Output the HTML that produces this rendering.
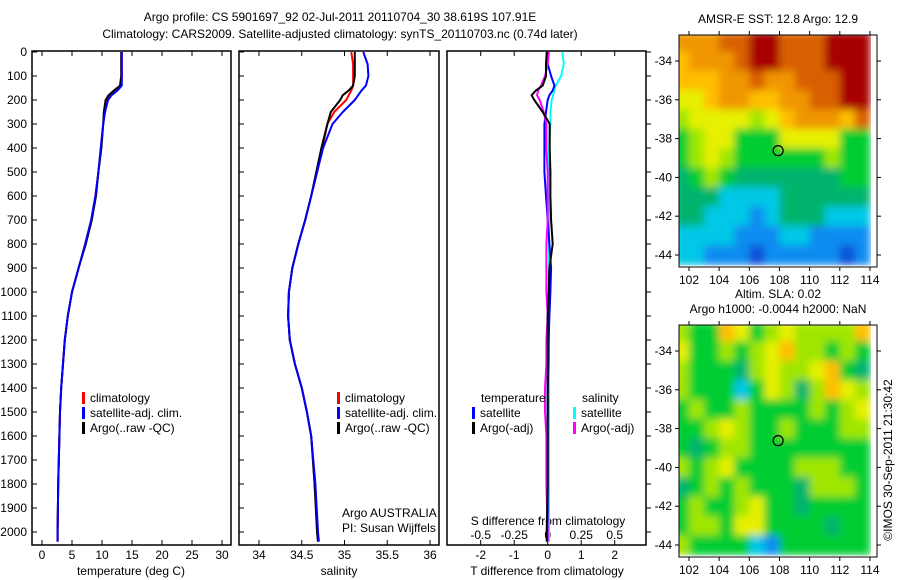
<!DOCTYPE html>
<html><head><meta charset="utf-8"><style>
body{margin:0;background:#fff;}
svg{display:block;font-family:"Liberation Sans",sans-serif;}
text{font-size:12px;fill:#000;}
</style></head><body>
<svg id="s" width="900" height="580" xmlns="http://www.w3.org/2000/svg">
<defs><filter id="bl" x="0" y="0" width="1" height="1"><feGaussianBlur stdDeviation="4" edgeMode="duplicate"/></filter></defs>
<text x="340" y="21" text-anchor="middle" font-size="13">Argo profile: CS 5901697_92 02-Jul-2011 20110704_30 38.619S 107.91E</text>
<text x="340" y="38" text-anchor="middle" font-size="13">Climatology: CARS2009. Satellite-adjusted climatology: synTS_20110703.nc (0.74d later)</text>
<text x="778" y="23" text-anchor="middle">AMSR-E SST: 12.8 Argo: 12.9</text>
<text x="778" y="298" text-anchor="middle">Altim. SLA: 0.02</text>
<text x="778" y="313" text-anchor="middle">Argo h1000: -0.0044 h2000: NaN</text>
<text transform="translate(892,460) rotate(-90)" text-anchor="middle">©IMOS 30-Sep-2011 21:30:42</text>
<g id="g"></g>
</svg>
<script>
const depths=[0,50,100,140,160,180,200,250,300,400,500,600,700,800,900,1000,1100,1200,1300,1400,1500,1600,1800,2000,2040];
const tempClim=[13.3,13.3,13.3,13.2,12.4,11.4,10.9,10.5,10.2,9.8,9.4,8.9,8.2,7.2,6.1,5.0,4.3,3.8,3.5,3.2,3.0,2.9,2.7,2.6,2.6];
const tempSat=[13.3,13.3,13.3,13.3,12.6,11.6,11.0,10.5,10.2,9.8,9.4,8.9,8.2,7.2,6.1,5.0,4.3,3.8,3.5,3.2,3.0,2.9,2.7,2.6,2.6];
const tempArgo=[13.2,13.2,13.2,13.0,12.0,11.1,10.6,10.3,10.2,9.9,9.4,9.0,8.3,7.3,6.1,5.0,4.3,3.8,3.5,3.2,3.0,2.9,2.7,2.6,2.6];
const salClim=[35.08,35.1,35.1,35.1,35.08,35.05,35.02,34.88,34.8,34.74,34.68,34.61,34.54,34.46,34.39,34.35,34.34,34.36,34.42,34.5,34.56,34.61,34.65,34.68,34.69];
const salSat=[35.22,35.27,35.28,35.25,35.2,35.16,35.12,34.98,34.86,34.75,34.68,34.61,34.54,34.46,34.39,34.35,34.34,34.36,34.42,34.5,34.56,34.61,34.66,34.69,34.7];
const salArgo=[35.12,35.12,35.12,35.1,35.05,34.98,34.95,34.84,34.8,34.73,34.67,34.61,34.54,34.46,34.39,34.35,34.34,34.36,34.42,34.5,34.56,34.61,34.65,34.68,34.69];
const tDiffSat=[0,0,0.1,0.2,0.15,0.05,0,-0.05,-0.1,-0.1,-0.1,-0.05,0,0.05,0.1,0.08,0.05,0.03,0.02,0,0,0,0,0,0];
const tDiffArgo=[-0.03,-0.05,-0.05,-0.15,-0.35,-0.48,-0.4,-0.15,0.06,0.06,0.08,0.08,0.1,0.15,0.05,0.03,0,0,0,0,0,0,0,-0.03,-0.03];
const sDiffSat=[0.11,0.12,0.1,0.06,0.05,0.04,0.03,0.02,0.02,0.01,0.01,0.01,0.01,0.01,0.01,0.01,0.01,0.01,0.01,0.01,0.01,0.01,0.01,0.01,0.01];
const sDiffArgo=[0.01,0,-0.02,-0.05,-0.07,-0.08,-0.06,-0.03,-0.01,-0.01,0,0,0,-0.01,-0.01,-0.01,0,-0.01,-0.01,-0.02,-0.02,-0.01,-0.01,0,0];
const depthTicks=[0,100,200,300,400,500,600,700,800,900,1000,1100,1200,1300,1400,1500,1600,1700,1800,1900,2000];
const tempTicks=[0,5,10,15,20,25,30];
const salTicks=[34,34.5,35,35.5,36];
const salTickLabels=["34","34.5","35","35.5","36"];
const tdTicks=[-2,-1,0,1,2];
const sdTicks=[-0.5,-0.25,0,0.25,0.5];
const sdTickLabels=["-0.5","-0.25","0","0.25","0.5"];
const lonTicks=[102,104,106,108,110,112,114];
const latTicks=[-34,-36,-38,-40,-42,-44];
const sstGrid=[
[8,8,8,9,9,10,10,9,9,9,10,10,10],
[7,8,8,8,9,10,10,9,9,9,10,10,10],
[7,7,7,8,8,9,8,8,9,9,9,10,10],
[6,6,7,8,8,7,7,8,8,9,9,10,10],
[5,6,6,6,6,5,6,7,8,8,8,7,9],
[4,5,6,6,4,4,4,6,6,6,6,4,4],
[4,5,6,5,4,4,4,4,4,4,5,4,4],
[3,4,5,4,3,3,3,3,3,3,3,4,4],
[3,3,3,2,2,2,2,3,3,3,3,3,3],
[3,3,2,2,2,1,2,3,3,3,2,2,2],
[2,2,2,2,1,1,1,2,2,1,1,1,1],
[2,2,1,1,1,0,1,1,1,1,1,0,1]];
const slaGrid=[
[5,4,4,7,6,4,5,6,5,5,5,5,7],
[6,4,4,5,4,5,6,7,5,5,4,5,4],
[5,4,4,4,3,5,6,5,5,6,7,4,3],
[5,4,4,4,2,4,6,5,3,5,7,6,5],
[4,5,4,4,5,4,4,4,4,5,4,5,6],
[4,4,5,6,5,4,4,5,4,4,4,5,5],
[4,3,4,5,5,4,4,4,4,4,4,4,4],
[5,4,5,6,4,4,4,4,5,5,5,4,4],
[3,4,5,4,5,4,4,4,3,5,5,5,4],
[4,5,4,4,5,6,4,4,3,4,4,4,4],
[4,5,5,4,6,6,4,4,4,4,3,4,4],
[5,4,4,4,4,2,1,4,4,4,4,4,4]];
const argoLon=107.91, argoLat=-38.62;

const NS="http://www.w3.org/2000/svg";
const G=document.getElementById('g');
function el(tag,attrs,parent,txt){const e=document.createElementNS(NS,tag);for(const k in attrs)e.setAttribute(k,attrs[k]);if(txt!==undefined)e.textContent=txt;(parent||G).appendChild(e);return e;}
const yTop=51,yBot=545;
const yD=d=>52+d*0.24;
function panel(x0,x1,name){const g=el('g',{});
 el('rect',{x:x0,y:yTop,width:x1-x0,height:yBot-yTop,fill:'none',stroke:'#000','stroke-width':1.5},g);return g;}
function line(g,xs,xf,color,name,w){const p=depths.map((d,i)=>`${i?'L':'M'}${xf(xs[i]).toFixed(1)},${yD(d).toFixed(1)}`).join(' ');
 const e=el('path',{d:p,fill:'none',stroke:color,'stroke-width':w||2,'stroke-linejoin':'round'},g);
 }
function xticks(g,ticks,labels,xf,yl){ticks.forEach((t,i)=>{const x=xf(t);
 el('line',{x1:x,x2:x,y1:yBot,y2:yBot-5,stroke:'#000'},g);el('line',{x1:x,x2:x,y1:yTop,y2:yTop+5,stroke:'#000'},g);
 const tx=el('text',{x:x,y:yl,'text-anchor':'middle'},g,labels[i]);});}
function yticksIn(g,x0){depthTicks.forEach(d=>el('line',{x1:x0,x2:x0+5,y1:yD(d),y2:yD(d),stroke:'#000'},g));}
function legend(g,x,y,color,label,name){el('rect',{x:x,y:y-10,width:3,height:12,fill:color},g);const t=el('text',{x:x+8,y:y},g,label);}

const tX=v=>42+v*6;
const p1=panel(32,231,'temperature-panel');
yticksIn(p1,32);
depthTicks.forEach(d=>{const t=el('text',{x:27,y:yD(d)+4,'text-anchor':'end'},p1,String(d));});
xticks(p1,tempTicks,tempTicks.map(String),tX,559);
line(p1,tempClim,tX,'#f00','temperature-climatology-line');
line(p1,tempArgo,tX,'#000','temperature-argo-line');
line(p1,tempSat,tX,'#00f','temperature-satellite-line');
legend(p1,82,402,'#f00','climatology','legend-climatology');
legend(p1,82,417,'#00f','satellite-adj. clim.','legend-satellite');
legend(p1,82,432,'#000','Argo(..raw -QC)','legend-argo');
el('text',{x:131,y:575,'text-anchor':'middle',},p1,'temperature (deg C)');

const sX=v=>259+(v-34)*85.5;
const p2=panel(239,439,'salinity-panel');
yticksIn(p2,239);
xticks(p2,salTicks,salTickLabels,sX,559);
line(p2,salClim,sX,'#f00','salinity-climatology-line');
line(p2,salArgo,sX,'#000','salinity-argo-line');
line(p2,salSat,sX,'#00f','salinity-satellite-line');
legend(p2,337,402,'#f00','climatology','legend-climatology-2');
legend(p2,337,417,'#00f','satellite-adj. clim.','legend-satellite-2');
legend(p2,337,432,'#000','Argo(..raw -QC)','legend-argo-2');
el('text',{x:342,y:517,},p2,'Argo AUSTRALIA');
el('text',{x:342,y:532,},p2,'PI: Susan Wijffels');
el('text',{x:339,y:575,'text-anchor':'middle',},p2,'salinity');

const tdX=v=>547.7+v*33.5;
const sdX=v=>547.7+v*134;
const p3=panel(447,646,'difference-panel');
depthTicks.forEach(d=>el('line',{x1:646,x2:651,y1:yD(d),y2:yD(d),stroke:'#000'},p3));
xticks(p3,tdTicks,tdTicks.map(String),tdX,559);
sdTicks.forEach((t,i)=>{const tx=el('text',{x:sdX(t),y:539,'text-anchor':'middle'},p3,sdTickLabels[i]);});
el('text',{x:548,y:525,'text-anchor':'middle',},p3,'S difference from climatology');
line(p3,sDiffSat,sdX,'#0ff','s-diff-satellite-line');
line(p3,tDiffSat,tdX,'#00f','t-diff-satellite-line');
line(p3,sDiffArgo,sdX,'#f0f','s-diff-argo-line');
line(p3,tDiffArgo,tdX,'#000','t-diff-argo-line');
el('text',{x:481,y:402,},p3,'temperature');
legend(p3,472,417,'#00f','satellite','legend-t-satellite');
legend(p3,472,432,'#000','Argo(-adj)','legend-t-argo');
el('text',{x:582,y:402,},p3,'salinity');
legend(p3,573,417,'#0ff','satellite','legend-s-satellite');
legend(p3,573,432,'#f0f','Argo(-adj)','legend-s-argo');
el('text',{x:547,y:575,'text-anchor':'middle',},p3,'T difference from climatology');

const cmap=['#0a50d8','#0a8cf0','#00c8e6','#00b46e','#00cd32','#a0e600','#e6f000','#ffbe00','#f09600','#d86000','#a80000'];
const lonX=v=>689+(v-102)*15.08;
function map(grid,y0,name){
 const cp=el('clipPath',{id:'clip'+y0});el('rect',{x:679,y:y0,width:198,height:232},cp);
 const outer=el('g',{'clip-path':'url(#clip'+y0+')'});
 const g=el('g',{filter:'url(#bl)'},outer);
 const latY=v=>y0+26+(-34-v)*19.4;
 const cw=15.08,ch=19.4;
 grid.forEach((row,r)=>row.forEach((v,c)=>{const cell=el('rect',{x:lonX(101.5+c)-cw/2,y:latY(-33-r)-ch/2,width:cw+0.6,height:ch+0.6,fill:cmap[v]},g);
   }));
 const fr=el('g',{});
 el('rect',{x:679,y:y0,width:198,height:232,fill:'none',stroke:'#000','stroke-width':1},fr);
 lonTicks.forEach(t=>{const x=lonX(t);el('line',{x1:x,x2:x,y1:y0,y2:y0-4,stroke:'#000'},fr);el('line',{x1:x,x2:x,y1:y0+232,y2:y0+236,stroke:'#000'},fr);
   const tx=el('text',{x:x,y:y0+249,'text-anchor':'middle'},fr,String(t));});
 latTicks.forEach(t=>{const y=latY(t);el('line',{x1:679,x2:675,y1:y,y2:y,stroke:'#000'},fr);el('line',{x1:877,x2:881,y1:y,y2:y,stroke:'#000'},fr);
   const tx=el('text',{x:672,y:y+4,'text-anchor':'end'},fr,String(t));});
 const c=el('circle',{cx:lonX(argoLon),cy:latY(argoLat),r:5,fill:'none',stroke:'#000','stroke-width':1.2},fr);
 
}
map(sstGrid,35,'sst-map');
map(slaGrid,325,'sla-map');
</script>
</body></html>
